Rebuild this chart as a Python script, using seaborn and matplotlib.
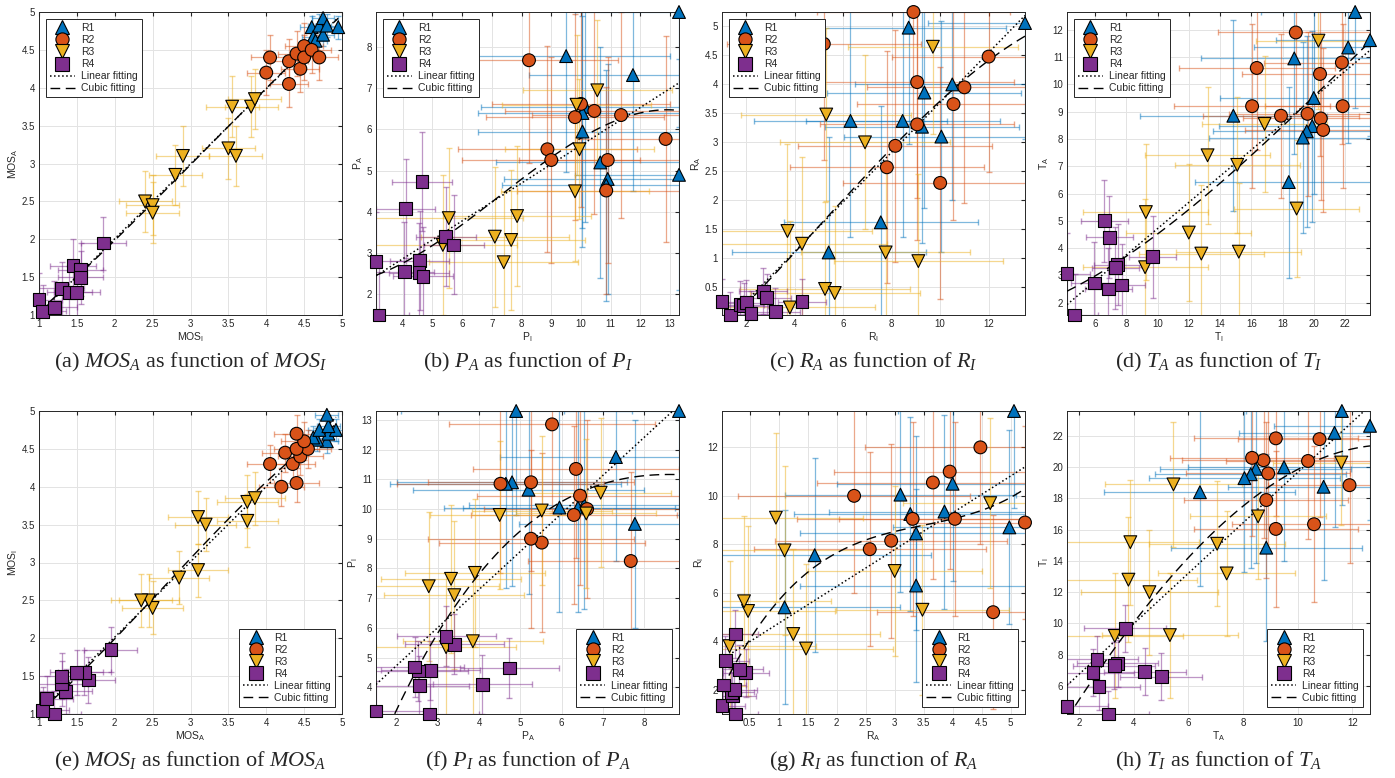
import numpy as np
import pandas as pd
import seaborn as sns
import matplotlib.pyplot as plt
from matplotlib.lines import Line2D
from matplotlib.ticker import MultipleLocator, FormatStrFormatter

groups = ["R1", "R2", "R3", "R4"]
palette = {"R1": "#0072BD", "R2": "#D95319", "R3": "#EDB120", "R4": "#7E2F8E"}
markers = {"R1": "^", "R2": "o", "R3": "v", "R4": "s"}

# MOS (image vs. audio)
mos_i = {"R1": [4.60, 4.62, 4.65, 4.70, 4.75, 4.75, 4.80, 4.95],
         "R2": [4.0, 4.05, 4.3, 4.3, 4.4, 4.45, 4.5, 4.5, 4.6, 4.7],
         "R3": [2.4, 2.5, 2.5, 2.8, 2.9, 3.5, 3.55, 3.6, 3.8, 3.85],
         "R4": [1.0, 1.05, 1.2, 1.3, 1.4, 1.45, 1.5, 1.55, 1.55, 1.85]}
mos_a = {"R1": [4.80, 4.67, 4.62, 4.82, 4.92, 4.70, 4.82, 4.80],
         "R2": [4.2, 4.4, 4.05, 4.35, 4.45, 4.25, 4.55, 4.4, 4.5, 4.4],
         "R3": [2.5, 2.45, 2.35, 2.85, 3.1, 3.2, 3.75, 3.1, 3.75, 3.85],
         "R4": [1.2, 1.05, 1.1, 1.35, 1.3, 1.65, 1.3, 1.6, 1.5, 1.95]}
mos_i_err = {"R1": 0.15, "R2": 0.25, "R3": 0.35, "R4": 0.3}
mos_a_err = {"R1": 0.15, "R2": 0.3, "R3": 0.4, "R4": 0.35}

# P
p_i = {"R1": [13.3, 9.5, 11.75, 10.15, 10.05, 10.05, 10.65, 10.9, 10.85, 13.3],
       "R2": [8.25, 10.0, 9.8, 10.45, 11.35, 12.85, 8.87, 9.0, 10.9, 10.85],
       "R3": [10.55, 9.85, 9.95, 9.8, 5.55, 7.85, 7.1, 7.65, 5.35, 7.4],
       "R4": [4.65, 4.1, 5.45, 5.72, 4.57, 3.1, 4.05, 4.55, 4.68, 3.2]}
p_a = {"R1": [8.85, 7.78, 7.32, 6.55, 6.4, 5.95, 5.2, 4.8, 4.65, 4.9],
       "R2": [7.68, 6.62, 6.3, 6.45, 6.35, 5.77, 5.52, 5.26, 5.26, 4.52],
       "R3": [6.95, 6.6, 5.52, 4.5, 3.85, 3.9, 3.4, 3.32, 3.2, 2.78],
       "R4": [4.73, 4.08, 3.4, 3.2, 2.82, 2.8, 2.55, 2.53, 2.44, 1.5]}
p_i_err = {"R1": 3.5, "R2": 3.0, "R3": 2.5, "R4": 1.0}
p_a_err = {"R1": 2.8, "R2": 2.5, "R3": 1.7, "R4": 1.2}

# R
r_i = {"R1": [8.7, 13.5, 10.5, 9.35, 6.3, 8.45, 9.25, 10.05, 7.55, 5.4],
       "R2": [8.9, 5.2, 12.0, 9.05, 11.0, 10.55, 9.05, 8.15, 7.8, 10.0],
       "R3": [9.7, 5.3, 6.9, 3.7, 4.3, 7.75, 9.1, 5.25, 5.65, 3.8],
       "R4": [1.0, 1.35, 1.75, 1.9, 2.0, 2.2, 2.7, 2.85, 3.2, 4.3]}
r_a = {"R1": [4.98, 5.06, 4.0, 3.86, 3.37, 3.37, 3.27, 3.1, 1.62, 1.1],
       "R2": [5.25, 4.7, 4.48, 4.04, 3.95, 3.66, 3.31, 2.94, 2.57, 2.3],
       "R3": [4.65, 3.48, 3.0, 1.47, 1.25, 1.1, 0.95, 0.47, 0.4, 0.15],
       "R4": [0.25, 0.02, 0.2, 0.18, 0.23, 0.04, 0.43, 0.32, 0.08, 0.25]}
r_i_err = {"R1": 4.0, "R2": 4.0, "R3": 3.5, "R4": 1.0}
r_a_err = {"R1": 2.0, "R2": 2.0, "R3": 1.5, "R4": 0.4}

# T
t_i = {"R1": [22.65, 23.6, 22.2, 18.75, 20.0, 19.9, 19.55, 19.3, 14.85, 18.4],
       "R2": [18.85, 16.35, 21.8, 20.4, 16.05, 21.85, 17.9, 19.6, 20.45, 20.6],
       "R3": [20.3, 16.85, 13.2, 15.1, 9.25, 18.9, 12.0, 12.8, 15.2, 9.2],
       "R4": [6.6, 6.9, 7.45, 7.3, 9.7, 4.2, 5.95, 6.85, 7.7, 4.7]}
t_a = {"R1": [12.65, 11.62, 11.35, 10.95, 9.5, 8.47, 8.28, 8.05, 8.85, 6.42],
       "R2": [11.9, 10.6, 10.8, 10.38, 9.2, 9.2, 8.85, 8.92, 8.75, 8.33],
       "R3": [11.6, 8.55, 7.4, 7.05, 5.32, 5.45, 4.57, 3.8, 3.87, 3.3],
       "R4": [5.0, 4.4, 3.4, 3.28, 3.68, 3.07, 2.72, 2.5, 2.65, 1.55]}
t_i_err = {"R1": 6.0, "R2": 5.0, "R3": 4.0, "R4": 1.5}
t_a_err = {"R1": 3.5, "R2": 3.0, "R3": 2.5, "R4": 1.5}

metrics = {"MOS": (mos_i, mos_a, mos_i_err, mos_a_err),
           "P": (p_i, p_a, p_i_err, p_a_err),
           "R": (r_i, r_a, r_i_err, r_a_err),
           "T": (t_i, t_a, t_i_err, t_a_err)}

rows = []
for m, (vi, va, ei, ea) in metrics.items():
    for g in groups:
        for x, y in zip(vi[g], va[g]):
            rows.append(dict(metric=m, group=g, I=x, A=y, I_err=ei[g], A_err=ea[g]))
df = pd.DataFrame(rows)

sns.set_style("white")
plt.rcParams['font.family'] = ['Liberation Sans', 'DejaVu Sans']
plt.rcParams['mathtext.fontset'] = 'custom'
plt.rcParams['mathtext.rm'] = 'Liberation Sans'
plt.rcParams['mathtext.it'] = 'Liberation Serif:italic'

fig = plt.figure(figsize=(13.95, 7.78), dpi=100)
W, H = 1395, 778
lefts = [39, 376, 722, 1067]
ax_w = 303
tops = [12, 411]
ax_h = 303

# (metric, x side, y side, x tick step, y tick step, caption letter)
panels = [("MOS", "I", "A", 0.5, 0.5, "a"), ("P", "I", "A", 1, 1, "b"),
          ("R", "I", "A", 2, 0.5, "c"), ("T", "I", "A", 2, 1, "d"),
          ("MOS", "A", "I", 0.5, 0.5, "e"), ("P", "A", "I", 1, 1, "f"),
          ("R", "A", "I", 0.5, 2, "g"), ("T", "A", "I", 2, 2, "h")]

for k, (m, xs, ys, xstep, ystep, letter) in enumerate(panels):
    row, col = divmod(k, 4)
    ax = fig.add_axes([lefts[col] / W, 1 - (tops[row] + ax_h) / H, ax_w / W, ax_h / H])
    sub = df[df.metric == m]
    for g in groups:
        s = sub[sub.group == g]
        ax.errorbar(s[xs], s[ys], xerr=s[xs + "_err"], yerr=s[ys + "_err"], fmt="none",
                    ecolor=palette[g], alpha=0.5, elinewidth=0.9, capsize=2, zorder=2)
    sns.regplot(data=sub, x=xs, y=ys, order=1, scatter=False, ci=None, truncate=True,
                color="black", line_kws=dict(ls=":", lw=1.1, zorder=3), ax=ax)
    sns.regplot(data=sub, x=xs, y=ys, order=3, scatter=False, ci=None, truncate=True,
                color="black", line_kws=dict(ls=(0, (7, 4)), lw=1.0, zorder=3), ax=ax)
    sns.scatterplot(data=sub, x=xs, y=ys, hue="group", style="group", markers=markers,
                    palette=palette, s=85, edgecolor="black", linewidth=0.8, legend=False,
                    clip_on=False, zorder=4, ax=ax)
    if m == "MOS":
        ax.set_xlim(1, 5)
        ax.set_ylim(1, 5)
    else:
        ax.set_xlim(sub[xs].min(), sub[xs].max())
        ax.set_ylim(sub[ys].min(), sub[ys].max())
    ax.xaxis.set_major_locator(MultipleLocator(xstep))
    ax.yaxis.set_major_locator(MultipleLocator(ystep))
    ax.xaxis.set_major_formatter(FormatStrFormatter("%g"))
    ax.yaxis.set_major_formatter(FormatStrFormatter("%g"))
    ax.grid(True, color="#e3e3e3", lw=0.7)
    ax.set_axisbelow(True)
    ax.tick_params(direction="in", top=True, right=True, length=3, labelsize=7,
                   colors="#262626", pad=3)
    for sp in ax.spines.values():
        sp.set_color("#262626")
        sp.set_linewidth(0.7)
    ax.set_xlabel(m + "$_\\mathrm{" + xs + "}$", fontsize=7.5, color="#262626", labelpad=1)
    ax.set_ylabel(m + "$_\\mathrm{" + ys + "}$", fontsize=7.5, color="#262626", labelpad=1)

    handles = [Line2D([], [], ls="none", marker=markers[g], markersize=9.5,
                      markerfacecolor=palette[g], markeredgecolor="black", markeredgewidth=0.8)
               for g in groups]
    handles += [Line2D([], [], color="black", ls=":", lw=1.1),
                Line2D([], [], color="black", ls=(0, (7, 4)), lw=1.0)]
    labels = groups + ["Linear fitting", "Cubic fitting"]
    leg = ax.legend(handles, labels, loc="upper left" if row == 0 else "lower right",
                    fontsize=7.5, frameon=True, fancybox=False, edgecolor="#262626",
                    framealpha=1, handlelength=2.4, labelspacing=0.2, borderpad=0.35,
                    borderaxespad=0.7, handletextpad=0.6)
    leg.get_frame().set_linewidth(0.7)

    cap = f"({letter}) ${m}_{ys}$ as function of ${m}_{xs}$"
    fig.text((lefts[col] + ax_w / 2) / W, 1 - (tops[row] + ax_h + 47) / H, cap,
             ha="center", va="center", fontsize=16, family="Liberation Serif")

fig.savefig("out.png", dpi=100)
